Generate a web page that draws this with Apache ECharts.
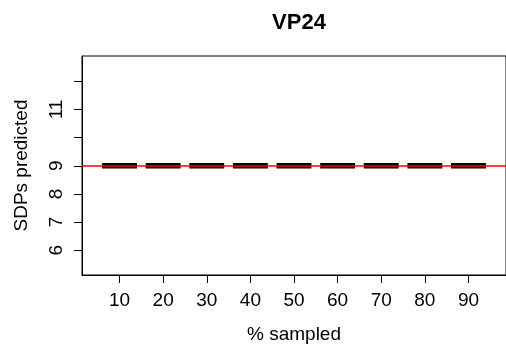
<!DOCTYPE html>
<html>
<head>
<meta charset="utf-8">
<script src="https://cdn.jsdelivr.net/npm/echarts@6/dist/echarts.min.js"></script>
<style>
  html, body { margin: 0; padding: 0; background: #fff; }
  #chart { width: 506px; height: 349px; }
</style>
</head>
<body>
<div id="chart"></div>
<script>
// Sampling levels (percent) and the SDP counts predicted at each level
const pctSampled = [10, 20, 30, 40, 50, 60, 70, 80, 90];
const sdpsPredicted = [9, 9, 9, 9, 9, 9, 9, 9, 9];
// Tick marks on the count axis, and the ones that carry a label
const yTickValues = [6, 7, 8, 9, 10, 11, 12];
const yLabelValues = [6, 7, 8, 9, 11];
// Reference level drawn across the panel
const refLevel = 9;

const groupPos = pctSampled.map((_, i) => i + 1);
const boxData = pctSampled.map((_, i) => [groupPos[i], sdpsPredicted[i]]);

const FONT = 'Liberation Sans';
const chart = echarts.init(document.getElementById('chart'), null, { renderer: 'canvas' });

chart.setOption({
  animation: false,
  backgroundColor: '#ffffff',
  title: {
    text: 'VP24',
    left: 294,
    top: 7,
    textAlign: 'center',
    textStyle: { fontFamily: FONT, fontWeight: 'bold', fontSize: 22, color: '#000' }
  },
  grid: {
    left: 82, top: 56, width: 425, height: 219,
    show: true, borderColor: '#000', borderWidth: 1, backgroundColor: 'transparent'
  },
  xAxis: {
    type: 'value',
    min: 0.14, max: 9.86,
    name: '% sampled',
    nameLocation: 'middle',
    nameGap: 50,
    nameTextStyle: { fontFamily: FONT, fontSize: 19, color: '#000' },
    splitLine: { show: false },
    axisLine: { show: true, lineStyle: { color: '#000', width: 1 } },
    axisTick: { show: true, length: 8, lineStyle: { color: '#000' }, customValues: groupPos },
    axisLabel: {
      customValues: groupPos,
      formatter: v => String(pctSampled[Math.round(v) - 1]),
      margin: 16,
      fontFamily: FONT, fontSize: 19, color: '#000'
    }
  },
  yAxis: {
    type: 'value',
    min: 5.12, max: 12.9,
    name: 'SDPs predicted',
    nameLocation: 'middle',
    nameGap: 51,
    nameTextStyle: { fontFamily: FONT, fontSize: 19, color: '#000' },
    splitLine: { show: false },
    axisLine: { show: true, lineStyle: { color: '#000', width: 1 } },
    axisTick: { show: true, length: 8, lineStyle: { color: '#000' }, customValues: yTickValues },
    axisLabel: {
      customValues: yLabelValues,
      rotate: 90,
      margin: 16,
      fontFamily: FONT, fontSize: 19, color: '#000'
    }
  },
  series: [
    {
      // collapsed boxes: every quartile sits at the same count
      type: 'custom',
      data: boxData,
      z: 2,
      renderItem: function (params, api) {
        const x = api.value(0), y = api.value(1);
        const half = api.size([0.8, 0])[0] / 2;
        const c = api.coord([x, y]);
        return {
          type: 'rect',
          shape: { x: c[0] - half, y: c[1] - 2.7, width: half * 2, height: 5.4 },
          style: { fill: '#000' }
        };
      },
      markLine: {
        silent: true,
        symbol: 'none',
        z: 5,
        label: { show: false },
        lineStyle: { color: '#ff0000', width: 1.6, type: 'solid' },
        data: [{ yAxis: refLevel }]
      }
    }
  ]
});
</script>
</body>
</html>
